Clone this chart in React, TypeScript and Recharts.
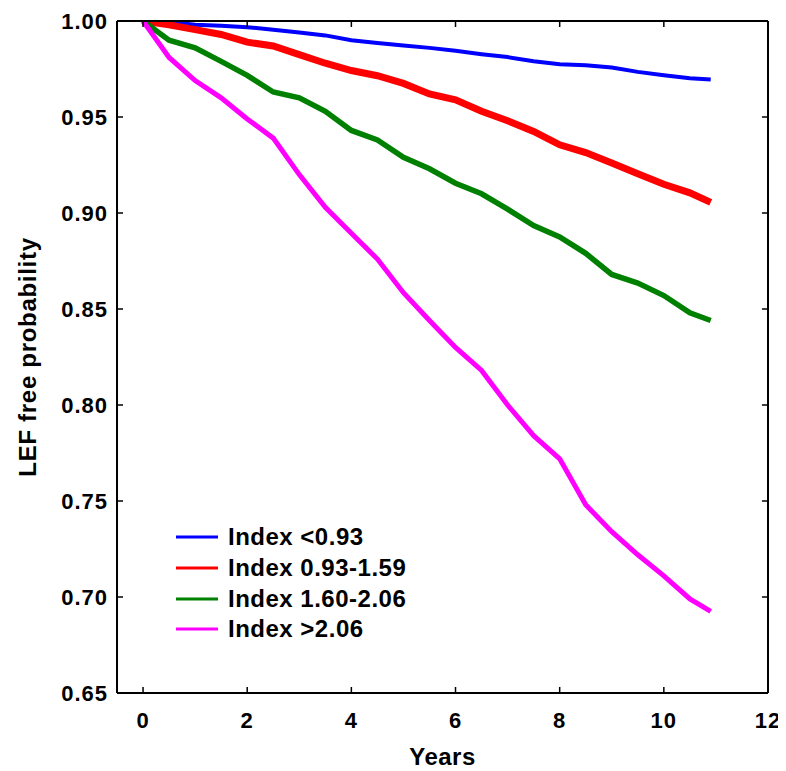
import React from 'react';
import { LineChart, Line, XAxis, YAxis, Legend } from 'recharts';

// follow-up time grid (years)
const years = [0, 0.5, 1, 1.5, 2, 2.5, 3, 3.5, 4, 4.5, 5, 5.5, 6, 6.5, 7, 7.5, 8, 8.5, 9, 9.5, 10, 10.5, 10.9];

// LEF free probability per index group
const indexLow = [1.0, 0.9995, 0.998, 0.9975, 0.9968, 0.9955, 0.994, 0.9925, 0.99, 0.9886, 0.9872, 0.986, 0.9845, 0.9827, 0.9812, 0.979, 0.9775, 0.977, 0.9758, 0.9735, 0.9717, 0.9702, 0.9695];
const indexMid = [1.0, 0.998, 0.9955, 0.993, 0.989, 0.987, 0.9825, 0.978, 0.9742, 0.9715, 0.9675, 0.962, 0.959, 0.953, 0.948, 0.9425, 0.9355, 0.9315, 0.926, 0.9205, 0.915, 0.9105, 0.9055];
const indexHigh = [1.0, 0.99, 0.986, 0.979, 0.9717, 0.963, 0.96, 0.953, 0.943, 0.938, 0.929, 0.923, 0.9155, 0.91, 0.902, 0.8935, 0.8875, 0.879, 0.868, 0.8635, 0.857, 0.848, 0.844];
const indexTop = [1.0, 0.981, 0.969, 0.96, 0.949, 0.939, 0.92, 0.903, 0.8895, 0.876, 0.8585, 0.844, 0.83, 0.818, 0.8, 0.784, 0.772, 0.748, 0.734, 0.722, 0.711, 0.699, 0.6925];

const xTicks = [0, 2, 4, 6, 8, 10, 12];
const yTicks = [0.65, 0.7, 0.75, 0.8, 0.85, 0.9, 0.95, 1.0];

const series = [
  { key: 'low', name: 'Index <0.93', color: '#0000ff', width: 4, values: indexLow },
  { key: 'mid', name: 'Index 0.93-1.59', color: '#ff0000', width: 7, values: indexMid },
  { key: 'high', name: 'Index 1.60-2.06', color: '#008000', width: 5.5, values: indexHigh },
  { key: 'top', name: 'Index >2.06', color: '#ff00ff', width: 5, values: indexTop },
];

const data = years.map((t, i) => {
  const row: Record<string, number> = { t };
  series.forEach((s) => { row[s.key] = s.values[i]; });
  return row;
});

const font = '"Liberation Sans", Arial, sans-serif';
const tickStyle = { fill: '#000', fontSize: 22, fontWeight: 'bold', fontFamily: font, letterSpacing: 1 };
const frameLine = { stroke: '#000', strokeWidth: 2 };
const tickMark = { stroke: '#000', strokeWidth: 1.5 };

const renderLegend = () => (
  <div style={{ fontFamily: font }}>
    {series.map((s) => (
      <div key={s.key} style={{ display: 'flex', alignItems: 'center', height: 30.7 }}>
        <svg width={42} height={6}>
          <line x1={0} y1={3} x2={42} y2={3} stroke={s.color} strokeWidth={3} />
        </svg>
        <span style={{ marginLeft: 10, fontSize: 24, fontWeight: 'bold', letterSpacing: 0.5, color: '#000' }}>{s.name}</span>
      </div>
    ))}
  </div>
);

const yLabel = ({ viewBox }: any) => {
  const cx = viewBox.x + 19;
  const cy = viewBox.y + viewBox.height / 2;
  return (
    <text x={cx} y={cy} transform={`rotate(-90, ${cx}, ${cy})`} textAnchor="middle" dominantBaseline="central"
      style={{ fontSize: 24, fontWeight: 'bold', fontFamily: font, letterSpacing: 0.7, fill: '#000' }}>
      LEF free probability
    </text>
  );
};

const hidden = () => <g />;

export default function App() {
  return (
    <div style={{ width: 778, height: 763, background: '#fff' }}>
      <LineChart width={778} height={763} data={data} margin={{ top: 12, right: 17, left: 0, bottom: 0 }}>
        <XAxis dataKey="t" type="number" domain={[-0.5, 12]} ticks={xTicks} allowDataOverflow
          height={78} tickSize={-6} tickMargin={25} tick={tickStyle}
          axisLine={frameLine} tickLine={tickMark}
          label={{ value: 'Years', position: 'insideBottom', offset: 6, style: { fontSize: 24, fontWeight: 'bold', fontFamily: font, letterSpacing: 0.5, fill: '#000' } }} />
        <XAxis xAxisId="top" orientation="top" dataKey="t" type="number" domain={[-0.5, 12]} ticks={xTicks} allowDataOverflow
          height={1} tickSize={-6} tickMargin={0} tick={hidden}
          axisLine={frameLine} tickLine={tickMark} />
        <YAxis type="number" domain={[0.65, 1]} ticks={yTicks} allowDataOverflow width={109}
          tickSize={-6} tickMargin={15} tick={tickStyle} tickFormatter={(v: number) => v.toFixed(2)}
          axisLine={frameLine} tickLine={tickMark}
          label={yLabel} />
        <YAxis yAxisId="right" orientation="right" type="number" domain={[0.65, 1]} ticks={yTicks} allowDataOverflow width={1}
          tickSize={-6} tickMargin={0} tick={hidden}
          axisLine={frameLine} tickLine={tickMark} />
        <Legend layout="vertical" align="center" verticalAlign="middle" content={renderLegend}
          wrapperStyle={{ left: 168, top: 514, width: 'auto' }} />
        {series.map((s) => (
          <Line key={s.key} dataKey={s.key} name={s.name} stroke={s.color} strokeWidth={s.width}
            dot={false} type="linear" isAnimationActive={false} />
        ))}
      </LineChart>
    </div>
  );
}
